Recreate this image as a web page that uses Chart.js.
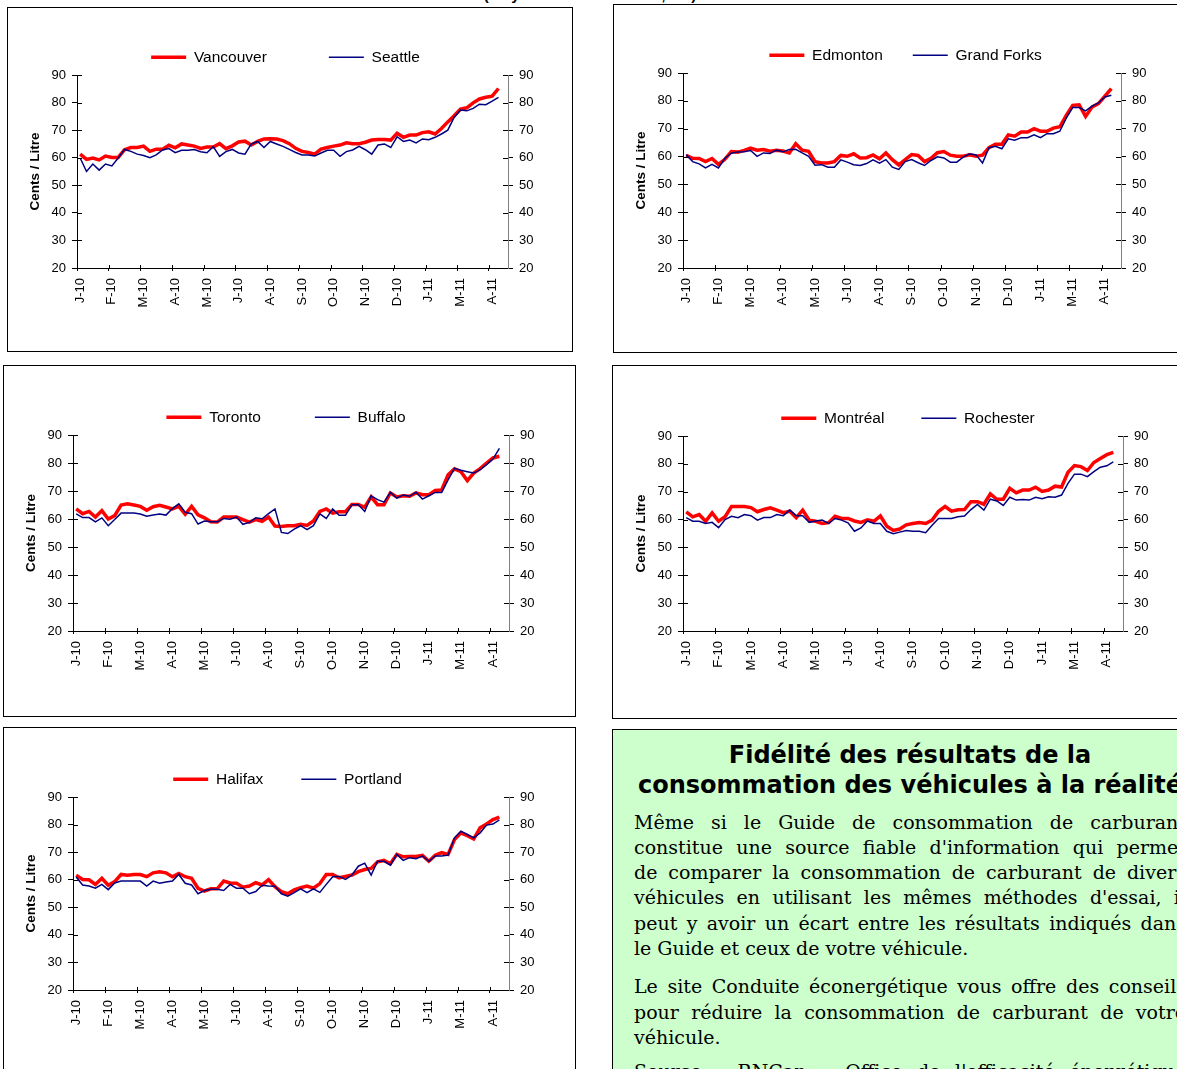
<!DOCTYPE html>
<html><head><meta charset="utf-8">
<script src="https://cdn.jsdelivr.net/npm/chart.js@4.4.1/dist/chart.umd.min.js"></script>
<style>
html,body{margin:0;padding:0;background:#fff;}
body{width:1177px;height:1069px;overflow:hidden;position:relative;}
.box{position:absolute;border:1px solid #000;box-sizing:border-box;background:#fff;overflow:hidden;}
.box canvas{position:absolute;left:0;top:0;}
#top{position:absolute;top:-14px;left:440px;width:300px;text-align:center;font:bold 15px 'Liberation Sans',Arial,sans-serif;color:#000;}
#note{position:absolute;left:612px;top:729px;width:600px;height:420px;border:1px solid #000;box-sizing:border-box;background:#ccffcc;padding:10px 0 0 21px;color:#000;}
#note .t{font:bold 24px 'DejaVu Sans',Verdana,sans-serif;line-height:30px;text-align:center;width:552px;white-space:nowrap;}
#note .p{font:19px 'DejaVu Serif',Georgia,serif;line-height:25.3px;width:552px;}
#note .j{text-align:justify;text-align-last:justify;}
</style></head>
<body>
<div id="top">(moyenne hebdomadaire, ¢/L)</div>
<div class="box" style="left:7px;top:7px;width:566px;height:345px;"><canvas id="c1" width="564" height="343"></canvas></div>
<div class="box" style="left:613px;top:4px;width:576px;height:349px;"><canvas id="c2" width="574" height="347"></canvas></div>
<div class="box" style="left:3px;top:365px;width:573px;height:352px;"><canvas id="c3" width="571" height="350"></canvas></div>
<div class="box" style="left:612px;top:365px;width:577px;height:354px;"><canvas id="c4" width="575" height="352"></canvas></div>
<div class="box" style="left:3px;top:727px;width:573px;height:362px;"><canvas id="c5" width="571" height="360"></canvas></div>
<div id="note">
  <div class="t">Fidélité des résultats de la</div>
  <div class="t">consommation des véhicules à la réalité</div>
  <div class="p" style="margin-top:9.5px;">
    <div class="j">Même si le Guide de consommation de carburant</div>
    <div class="j">constitue une source fiable d'information qui permet</div>
    <div class="j">de comparer la consommation de carburant de divers</div>
    <div class="j">véhicules en utilisant les mêmes méthodes d'essai, il</div>
    <div class="j">peut y avoir un écart entre les résultats indiqués dans</div>
    <div>le Guide et ceux de votre véhicule.</div>
  </div>
  <div class="p" style="margin-top:13px;">
    <div class="j">Le site Conduite éconergétique vous offre des conseils</div>
    <div class="j">pour réduire la consommation de carburant de votre</div>
    <div>véhicule.</div>
  </div>
  <div class="p" style="margin-top:9px;">
    <div class="j">Source : RNCan – Office de l'efficacité énergétique</div>
  </div>
</div>
<script>
// ---- tick labels (one every 5 weekly categories) ----
const tickLabels = ['J-10','F-10','M-10','A-10','M-10','J-10','A-10','S-10','O-10','N-10','D-10','J-11','M-11','A-11'];
const nCategories = 68;
const categories = Array.from({length: nCategories}, (_, i) => (i % 5 === 0 && tickLabels[i / 5]) ? tickLabels[i / 5] : '');

// ---- series (cents / litre, weekly) ----
const vancouver = [61.3,59.4,59.9,59.2,60.6,60.1,60.1,62.9,63.7,63.7,
64.2,62.3,63.1,63.1,64.5,63.6,65.0,64.6,64.2,63.4,
63.9,63.9,65.1,63.3,64.3,65.7,66.0,64.6,65.9,66.8,
66.9,66.8,66.2,65.1,63.4,62.3,61.9,61.3,63.1,63.7,
64.2,64.6,65.4,65.1,65.1,65.6,66.4,66.6,66.6,66.4,
68.9,67.4,68.2,68.2,69.1,69.4,68.6,70.6,73.0,75.2,
77.6,78.1,79.9,81.3,81.9,82.3,85.1];
const seattle = [59.9,55.0,57.7,55.5,57.7,57.0,59.9,63.0,62.3,61.3,
60.8,60.0,61.0,62.8,63.3,61.8,62.7,62.7,63.0,62.2,
61.8,64.0,60.5,62.2,63.0,61.7,61.3,65.0,65.9,63.7,
65.9,65.0,64.1,63.0,61.9,61.0,61.0,60.6,61.7,62.7,
62.7,60.5,62.2,62.8,64.1,62.9,61.3,64.6,65.0,63.7,
67.6,65.9,66.4,65.4,66.8,66.5,67.4,68.6,70.0,74.6,
77.3,77.0,77.9,79.4,79.2,80.5,81.9];
const edmonton = [60.4,59.4,59.3,58.2,59.3,57.2,59.0,61.8,61.6,62.2,
63.0,62.3,62.5,61.9,62.3,62.0,61.3,64.6,62.3,61.9,
58.2,57.7,57.7,58.2,60.4,60.1,61.0,59.5,59.6,60.6,
59.2,61.3,58.9,57.0,58.9,60.7,60.4,58.2,59.4,61.4,
61.8,60.5,60.1,60.1,60.6,60.1,60.5,63.2,64.4,64.4,
67.8,67.3,68.8,68.8,70.0,69.1,69.1,70.2,70.7,74.8,
78.4,78.6,74.4,77.8,79.0,81.7,84.4];
const grandForks = [60.7,58.2,57.4,55.9,57.2,55.9,59.4,61.2,61.6,61.7,
62.2,60.1,61.3,61.1,62.3,61.7,62.5,62.6,61.3,60.1,
56.9,57.1,56.2,56.2,58.8,58.0,57.1,56.8,57.5,58.8,
57.6,58.9,56.2,55.4,58.2,58.9,57.8,56.8,58.6,59.9,
59.5,58.0,58.0,59.8,61.0,60.6,57.7,63.2,63.7,62.8,
66.4,65.9,66.8,66.8,67.8,66.8,68.2,68.2,69.1,73.8,
77.6,77.6,76.4,78.1,79.3,81.4,82.0];
const toronto = [63.6,61.9,62.7,60.7,63.0,60.0,61.2,65.0,65.4,65.0,
64.5,63.1,64.4,64.9,64.3,63.6,64.5,61.7,64.5,61.5,
60.4,59.0,58.9,60.7,60.7,60.7,59.8,58.9,59.8,59.2,
60.7,57.5,57.3,57.6,57.6,58.1,57.7,59.3,62.7,63.6,
62.1,62.6,62.6,65.2,65.2,64.2,67.9,65.1,65.1,69.3,
67.9,68.3,68.1,69.3,68.7,68.7,70.2,70.4,75.8,77.9,
76.9,73.7,76.4,78.0,80.0,81.8,82.4];
const buffalo = [61.8,60.5,60.5,59.0,60.4,57.6,59.8,62.1,62.1,62.1,
61.8,61.0,61.4,61.8,61.4,63.7,65.4,62.4,61.9,58.2,
59.3,59.0,59.0,60.2,59.9,60.7,58.1,58.8,60.4,60.1,
61.9,63.6,55.2,54.8,56.4,57.6,56.2,57.6,61.8,60.2,
63.6,61.3,61.3,65.1,65.1,62.7,68.3,66.9,66.0,69.5,
67.5,68.6,68.1,69.6,67.1,68.3,69.5,69.5,74.0,78.1,
77.4,76.9,76.4,77.6,79.4,81.4,85.2];
const montreal = [62.8,61.0,61.8,59.4,62.4,59.4,61.0,64.7,64.7,64.7,
64.3,62.8,63.6,64.2,63.4,62.5,63.0,60.7,63.4,59.8,
59.4,58.6,58.9,61.2,60.4,60.4,59.5,59.0,59.9,59.4,
61.3,57.6,56.1,56.6,58.1,58.6,58.9,58.6,59.8,63.0,
64.7,63.0,63.5,63.6,66.4,66.4,65.5,69.2,67.3,67.3,
71.2,69.6,70.6,70.6,71.6,70.1,70.6,72.0,71.7,77.0,
79.4,79.0,77.6,80.5,81.9,83.3,84.1];
const rochester = [60.7,59.4,59.4,58.6,59.0,57.1,60.0,61.2,60.7,61.8,
61.4,59.8,60.7,60.7,61.8,61.4,63.4,61.4,61.4,59.0,
59.5,59.8,58.6,60.4,59.8,58.8,55.8,57.0,59.5,58.6,
58.6,55.8,54.9,55.5,56.1,55.8,55.8,55.3,58.0,60.4,
60.4,60.4,61.0,61.3,63.6,65.4,63.4,67.3,66.7,65.1,
68.0,67.0,67.2,67.0,68.0,67.5,68.2,68.0,68.8,73.0,
76.3,76.3,75.4,77.2,78.8,79.3,80.7];
const halifax = [61.6,60.1,60.0,58.3,60.5,58.0,59.3,61.9,61.6,61.9,
61.9,61.1,62.5,62.9,62.5,61.1,62.3,61.1,60.5,56.9,
55.9,56.7,56.7,59.5,58.8,58.7,57.3,57.7,58.9,58.1,
60.0,57.5,55.7,54.9,56.3,57.1,57.7,56.9,58.6,61.9,
61.9,60.7,61.2,61.7,62.9,63.7,64.1,66.5,67.0,65.8,
69.2,68.3,68.4,68.4,68.8,66.7,68.9,69.8,69.2,74.6,
77.0,76.0,74.8,78.8,80.2,81.8,82.7];
const portland = [61.0,58.1,57.7,56.9,58.3,56.4,58.8,59.5,59.5,59.5,
59.5,57.7,59.5,58.7,59.2,59.5,61.9,58.7,58.1,54.9,
56.1,56.5,56.5,56.1,58.3,56.9,56.9,54.9,55.7,58.0,
57.7,57.6,54.9,54.0,55.3,56.7,55.3,56.7,55.4,58.3,
61.1,61.2,60.1,61.7,64.9,66.0,61.7,66.7,66.7,65.3,
69.2,67.0,68.0,67.6,68.6,66.7,68.6,68.6,68.9,75.2,
77.6,76.4,75.2,77.0,79.8,80.2,81.7];

const FONT = "'Liberation Sans', Arial, sans-serif";

const crossTicks = {
  id: 'crossTicks',
  afterDatasetsDraw(chart) {
    const ctx = chart.ctx, ca = chart.chartArea;
    ctx.save();
    ctx.strokeStyle = '#000';
    ctx.lineWidth = 1;
    ['y', 'y2'].forEach(id => {
      const s = chart.scales[id];
      const x = id === 'y' ? Math.round(ca.left) : Math.round(ca.right);
      const dir = id === 'y' ? 1 : -1;
      s.ticks.forEach(t => {
        const py = Math.round(s.getPixelForValue(t.value)) + 0.5;
        ctx.beginPath(); ctx.moveTo(x, py); ctx.lineTo(x + dir * 5, py); ctx.stroke();
      });
    });
    const xs = chart.scales.x;
    const w = xs.getPixelForValue(1) - xs.getPixelForValue(0);
    for (let i = 0; i < categories.length; i += 5) {
      const px = Math.round(xs.getPixelForValue(i) - w / 2) + 0.5;
      ctx.beginPath(); ctx.moveTo(px, ca.bottom); ctx.lineTo(px, ca.bottom - 3); ctx.stroke();
    }
    ctx.restore();
  }
};

function makeChart(id, redLabel, redData, blueLabel, blueData, L) {
  const tickFont = {family: FONT, size: 13};
  new Chart(document.getElementById(id), {
    type: 'line',
    data: {
      labels: categories,
      datasets: [
        {label: redLabel, data: redData, borderColor: '#ff0000', backgroundColor: '#ff0000', borderWidth: 3.5, pointRadius: 0, tension: 0, order: 1, yAxisID: 'y'},
        {label: blueLabel, data: blueData, borderColor: '#000080', backgroundColor: '#000080', borderWidth: 1.5, pointRadius: 0, tension: 0, order: 0, yAxisID: 'y'}
      ]
    },
    options: {
      responsive: false, animation: false, devicePixelRatio: 1,
      layout: {padding: {left: L.pl, right: L.pr, top: L.pt, bottom: L.pb}},
      plugins: {
        tooltip: {enabled: false},
        legend: {
          display: true, position: 'top', align: 'center',
          labels: {
            usePointStyle: true, pointStyle: 'line', pointStyleWidth: 35,
            padding: L.lp, color: '#000', font: {family: FONT, size: 15.5},
            sort: (a, b) => a.datasetIndex - b.datasetIndex
          }
        }
      },
      scales: {
        x: {
          type: 'category', offset: true,
          grid: {display: true, drawOnChartArea: false, drawTicks: true, tickLength: 3, offset: true,
                 color: c => (c.index !== undefined && c.index % 5 === 0) ? '#000' : 'rgba(0,0,0,0)'},
          border: {display: true, color: '#000', width: 1},
          ticks: {autoSkip: false, maxRotation: 90, minRotation: 90, padding: 7, color: '#000', font: tickFont,
                  callback: (v, i) => categories[i]},
          afterFit: s => { s.height = L.xH; }
        },
        y: {
          position: 'left', min: 20, max: 90,
          ticks: {stepSize: 10, padding: 6, color: '#000', font: tickFont},
          grid: {drawOnChartArea: false, tickLength: 5, color: '#000'},
          border: {display: true, color: '#000', width: 1},
          title: {display: true, text: 'Cents / Litre', color: '#000', font: {family: FONT, size: 13.5, weight: 'bold'}, padding: {top: 4, bottom: 4}},
          afterFit: s => { s.width = L.yW; }
        },
        y2: {
          position: 'right', min: 20, max: 90, display: true,
          ticks: {stepSize: 10, padding: 6, color: '#000', font: tickFont},
          grid: {drawOnChartArea: false, tickLength: 5, color: '#000'},
          border: {display: true, color: '#808080', width: 1},
          afterFit: s => { s.width = L.y2W; }
        }
      }
    },
    plugins: [crossTicks]
  });
}

makeChart('c1', 'Vancouver', vancouver, 'Seattle', seattle, {pl:15, pr:24, pt:-20.5, pb:33, yW:54, y2W:40, xH:50, lp:62});
makeChart('c2', 'Edmonton', edmonton, 'Grand Forks', grandForks, {pl:15, pr:6, pt:12.5, pb:34, yW:54, y2W:61, xH:50, lp:30});
makeChart('c3', 'Toronto', toronto, 'Buffalo', buffalo, {pl:15, pr:22, pt:-10.5, pb:35, yW:54, y2W:44, xH:50, lp:54});
makeChart('c4', 'Montréal', montreal, 'Rochester', rochester, {pl:16, pr:1, pt:7.5, pb:37, yW:54, y2W:64, xH:50, lp:37});
makeChart('c5', 'Halifax', halifax, 'Portland', portland, {pl:15, pr:19, pt:5.5, pb:48, yW:54, y2W:47, xH:50, lp:38});
</script>
</body></html>
